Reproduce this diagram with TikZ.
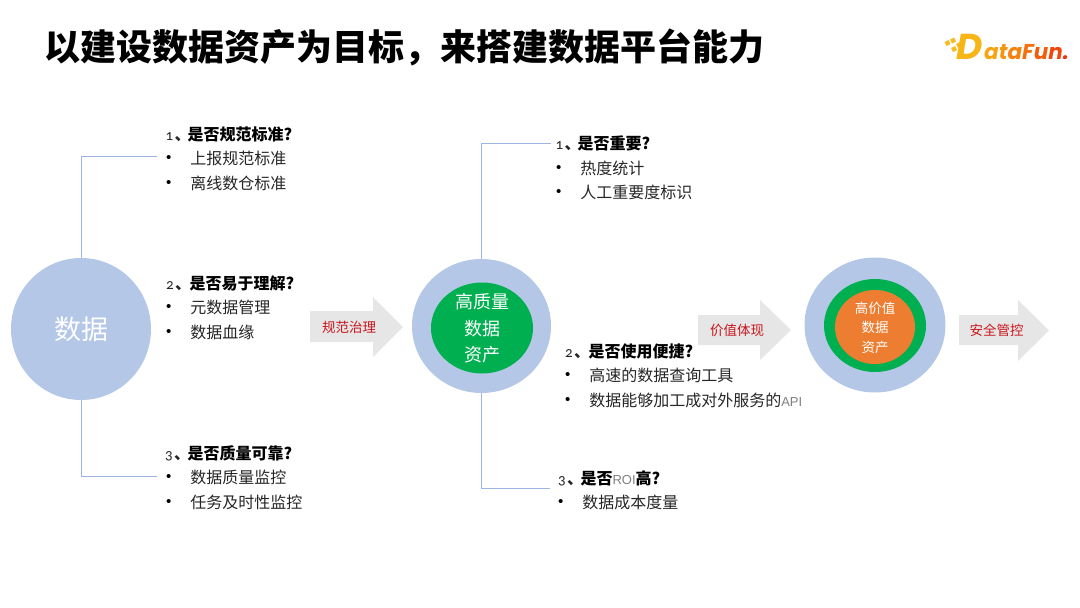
\documentclass[tikz,border=0pt]{standalone}
\usepackage{fontspec}
\setmainfont{Noto Sans CJK SC}
\newfontfamily\latinf{Liberation Sans}
\newfontfamily\osnum[Numbers=OldStyle]{Carlito}
\newfontfamily\logof[ItalicFont=Poppins Italic,BoldItalicFont=Poppins Bold Italic]{Poppins}
\definecolor{ringblue}{HTML}{B4C7E7}
\definecolor{linkblue}{HTML}{9DB5E0}
\definecolor{assetgreen}{HTML}{00B050}
\definecolor{assetorange}{HTML}{ED7D31}
\definecolor{arrowgrey}{HTML}{E7E6E6}
\definecolor{labelred}{HTML}{C8161D}
\definecolor{bodytext}{HTML}{262626}
\definecolor{apigrey}{HTML}{7F7F7F}
\definecolor{logogold}{HTML}{F7BC20}
\usetikzlibrary{shapes.geometric}
\newcommand{\qmark}[1]{{\osnum\fontsize{15}{15}\selectfont #1}\hspace{1.5pt}{\rmfamily\bfseries\fontsize{16}{16}\selectfont 、}}
\tikzset{
  x=1pt,y=-1pt,
  txt/.style={inner sep=0pt,outer sep=0pt,anchor=west},
  heading/.style={txt,xshift=-0.5pt,text height=14.08pt,text depth=1.92pt,font=\fontsize{16}{16}\selectfont\bfseries,text=black},
  num/.style={txt,text height=14.08pt,text depth=1.92pt,font=\fontsize{16}{16}\selectfont,text=bodytext},
  body/.style={txt,xshift=-0.7pt,text height=14.08pt,text depth=1.92pt,font=\fontsize{16}{16}\selectfont,text=bodytext},
  dot/.style={txt,text height=12pt,text depth=3pt,font=\fontsize{15}{15}\latinf\selectfont,text=black},
  link/.style={draw=linkblue,line width=0.9pt},
  greyarrow/.style={fill=arrowgrey,draw=none},
  arrowlabel/.style={inner sep=0pt,font=\fontsize{13.5}{13.5}\selectfont,text=labelred},
  disc/.style={inner sep=0pt,align=center,text=white}
}
\begin{document}
\begin{tikzpicture}
\useasboundingbox (0,0) rectangle (1080,608);
% title
\node[txt,text height=31.68pt,text depth=4.32pt,font=\fontsize{36}{36}\selectfont\bfseries,text=black] (title) at (45,47) {以建设数据资产为目标，来搭建数据平台能力};
% logo
\foreach \px/\py in {947.5/43,953/40.5,954/49,959/45,961/52}
  \fill[logogold] (\px-3,\py-1) -- (\px+1,\py-3) -- (\px+3,\py+1) -- (\px-1,\py+3) -- cycle;
\definecolor{la}{HTML}{F8B516}\definecolor{lb}{HTML}{F8A412}\definecolor{lc}{HTML}{F79410}
\definecolor{ld}{HTML}{F6830F}\definecolor{le}{HTML}{F5700E}\definecolor{lf}{HTML}{F35B0D}
\definecolor{lg}{HTML}{F0480C}\definecolor{lh}{HTML}{EE300A}
\node[inner sep=0pt,anchor=base west,font=\logof\fontsize{36}{36}\selectfont\bfseries\itshape,text=la] (logoD) at (956,59) {D};
\node[inner sep=0pt,anchor=base west,font=\logof\fontsize{21.5}{21.5}\selectfont\bfseries\itshape] (logo) at (984,59)
  {\textcolor{lb}{a}\textcolor{lc}{t}\textcolor{ld}{a}\textcolor{le}{F}\textcolor{lf}{u}\textcolor{lg}{n}\textcolor{lh}{.}};
% circles
\node[ellipse,fill=ringblue,inner sep=0pt,minimum width=140pt,minimum height=142pt,text=white,font=\fontsize{27}{27}\selectfont] (data) at (81,329) {数据};
\node[ellipse,fill=ringblue,inner sep=0pt,minimum width=139pt,minimum height=134pt] (hqring) at (481.5,326) {};
\node[ellipse,fill=assetgreen,minimum width=102pt,minimum height=91pt,inner sep=0pt] (hqcore) at (482,328) {};
\node[disc,font=\fontsize{18}{26.5}\selectfont] (hqtext) at (482,328.5) {高质量\\数据\\资产};
\node[ellipse,fill=ringblue,inner sep=0pt,minimum width=141pt,minimum height=135pt] (hvring) at (875,325) {};
\node[ellipse,fill=assetgreen,minimum width=102pt,minimum height=93pt,inner sep=0pt] (hvgreen) at (875,325.5) {};
\node[ellipse,fill=assetorange,minimum width=80pt,minimum height=74pt,inner sep=0pt] (hvcore) at (875,327) {};
\node[disc,font=\fontsize{13.5}{19.5}\selectfont] (hvtext) at (875,327.5) {高价值\\数据\\资产};
% block arrows
\fill[greyarrow] (310,311) -- (373,311) -- (373,297) -- (403,327) -- (373,357) -- (373,342) -- (310,342) -- cycle;
\fill[greyarrow] (698,315) -- (760,315) -- (760,300) -- (791,330) -- (760,360) -- (760,345) -- (698,345) -- cycle;
\fill[greyarrow] (959,315) -- (1018,315) -- (1018,300) -- (1049,330.5) -- (1018,361) -- (1018,345) -- (959,345) -- cycle;
\node[arrowlabel] (lab1) at (349,327) {规范治理};
\node[arrowlabel] (lab2) at (737,330) {价值体现};
\node[arrowlabel] (lab3) at (996.5,330.5) {安全管控};
% connector ends
\coordinate (e1) at (157,156);
\coordinate (e2) at (157,476);
\coordinate (e3) at (551,143);
\coordinate (e4) at (550,488);
\draw[link] (data.north) |- (e1);
\draw[link] (data.south) |- (e2);
\draw[link] (hqring.north) |- (e3);
\draw[link] (hqring.south) |- (e4);
% left column
\node[num] (n1) at (165.5,134) {\qmark{1}};
\node[heading] (h1) at (188,134) {是否规范标准?};
\node[dot] (d11) at (166,158) {•};
\node[body] (t11) at (191,158) {上报规范标准};
\node[dot] (d12) at (166,183) {•};
\node[body] (t12) at (191,183) {离线数仓标准};
\node[num] (n2) at (166,283) {\qmark{2}};
\node[heading] (h2) at (190,283) {是否易于理解?};
\node[dot] (d21) at (166,307) {•};
\node[body] (t21) at (191,307) {元数据管理};
\node[dot] (d22) at (166,332) {•};
\node[body] (t22) at (191,332) {数据血缘};
\node[num] (n3) at (165,453) {\qmark{3}};
\node[heading] (h3) at (188,453) {是否质量可靠?};
\node[dot] (d31) at (166,477) {•};
\node[body] (t31) at (191,477) {数据质量监控};
\node[dot] (d32) at (166,502) {•};
\node[body] (t32) at (191,502) {任务及时性监控};
% middle column
\node[num] (m1) at (555.5,143) {\qmark{1}};
\node[heading] (g1) at (578,143) {是否重要?};
\node[dot] (b11) at (556,168) {•};
\node[body] (s11) at (581,168) {热度统计};
\node[dot] (b12) at (556,192) {•};
\node[body] (s12) at (581,192) {人工重要度标识};
\node[num] (m2) at (565,351) {\qmark{2}};
\node[heading] (g2) at (589,351) {是否使用便捷?};
\node[dot] (b21) at (565,375) {•};
\node[body] (s21) at (590,375) {高速的数据查询工具};
\node[dot] (b22) at (565,400) {•};
\node[body] (s22) at (590,400) {数据能够加工成对外服务的{\latinf\fontsize{13}{14}\selectfont\color{apigrey}API}};
\node[num] (m3) at (558,478) {\qmark{3}};
\node[heading] (g3) at (581,478) {是否{\mdseries\latinf\fontsize{13}{14}\selectfont\color{apigrey}ROI}高?};
\node[dot] (b31) at (558,502) {•};
\node[body] (s31) at (583,502) {数据成本度量};
\end{tikzpicture}
\end{document}
